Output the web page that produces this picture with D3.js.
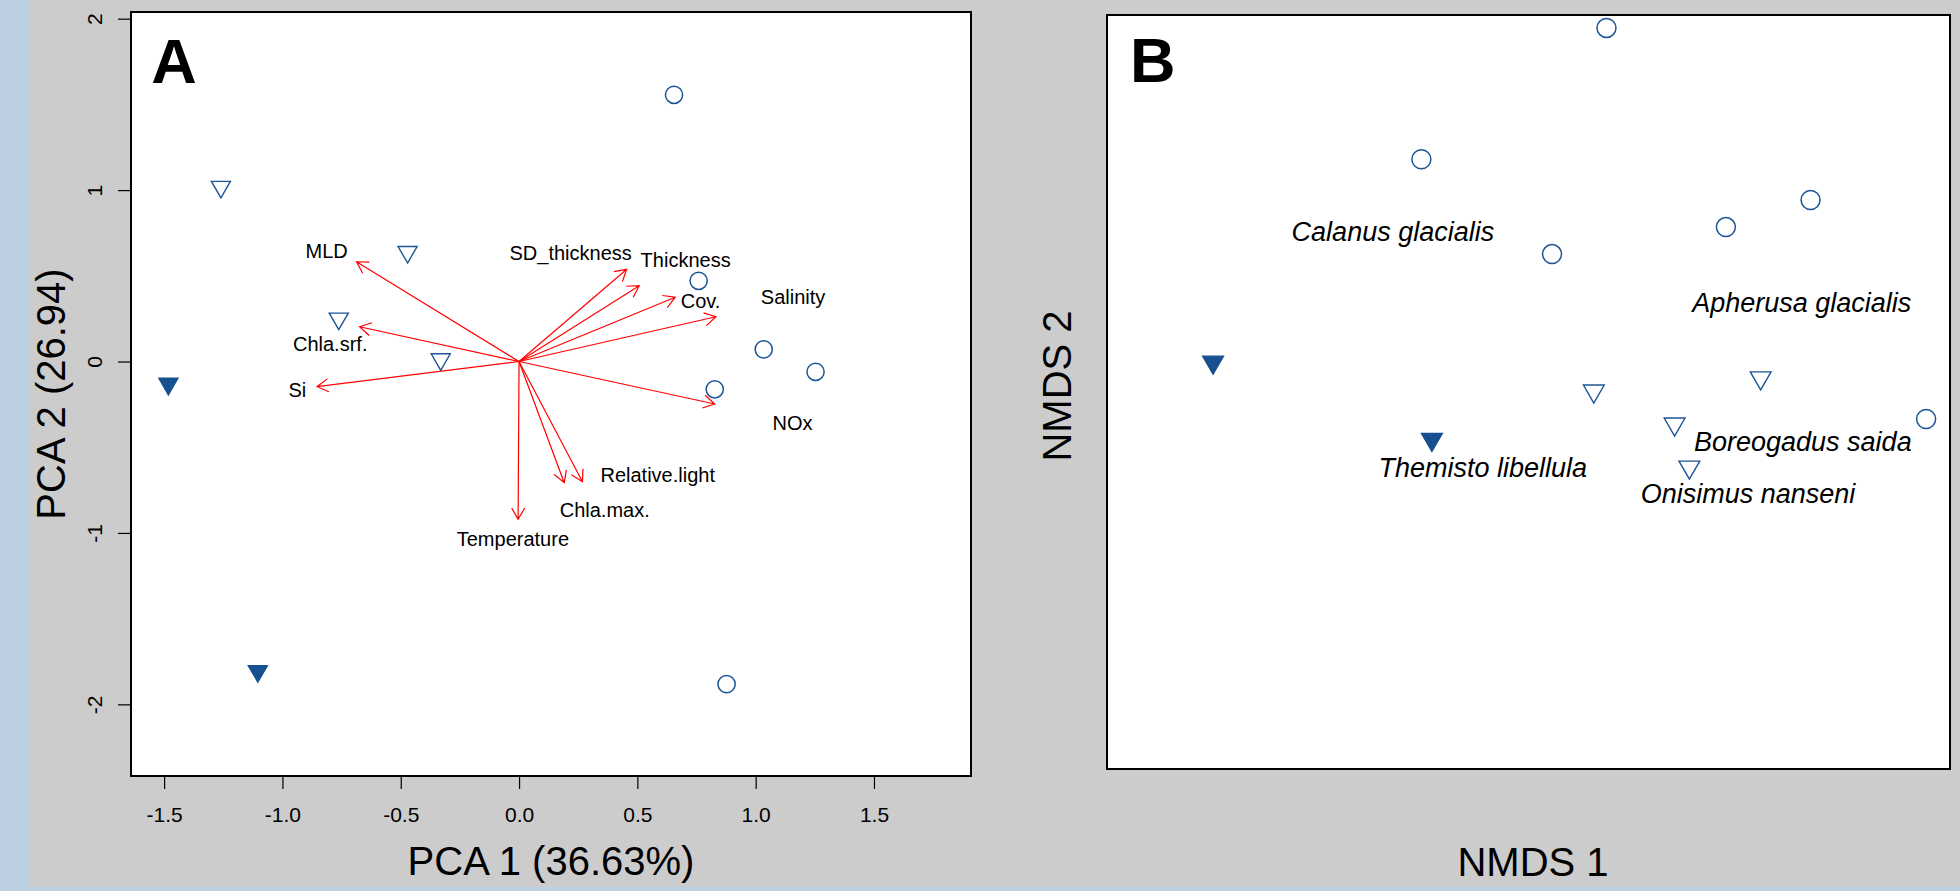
<!DOCTYPE html>
<html>
<head>
<meta charset="utf-8">
<script src="https://cdn.jsdelivr.net/npm/d3@7"></script>
<style>
  body { margin: 0; background: #cccccc; }
  text { font-family: "Liberation Sans", Arial, sans-serif; }
</style>
</head>
<body>
<div id="figure"></div>
<script>
// ---- Panel A: PCA site scores ----
const pcaX     = [0.655, -1.260, -0.471, -0.762, -0.331, -1.482, -1.104, 0.877, 0.759, 1.034, 1.253, 0.827];
const pcaY     = [1.556,  1.019,  0.639,  0.250,  0.013, -0.130, -1.806, -1.882, 0.471, 0.071, -0.060, -0.162];
const pcaGroup = ["circle", "open", "open", "open", "open", "filled", "filled", "circle", "circle", "circle", "circle", "circle"];

// environmental loadings (arrow tips) and label positions
const envNames  = ["MLD", "Chla.srf.", "Si", "SD_thickness", "Thickness", "Cov.", "Salinity", "NOx", "Relative.light", "Chla.max.", "Temperature"];
const envX      = [-0.687, -0.674, -0.854, 0.455, 0.508, 0.660, 0.832, 0.827, 0.268, 0.191, -0.004];
const envY      = [ 0.582,  0.203, -0.147, 0.538, 0.442, 0.375, 0.261, -0.248, -0.701, -0.707, -0.921];
const envLabelX = [-0.813, -0.798, -0.937, 0.218, 0.704, 0.767, 1.158, 1.156, 0.586, 0.362, -0.026];
const envLabelY = [ 0.646,  0.102, -0.166, 0.634, 0.596, 0.355, 0.375, -0.355, -0.658, -0.866, -1.036];

const pcaXTicks = [-1.5, -1.0, -0.5, 0.0, 0.5, 1.0, 1.5];
const pcaYTicks = [-2, -1, 0, 1, 2];

// ---- Panel B: NMDS ----
const nmdsX     = [0.222, -0.305, 0.067, 0.562, 0.803, 1.132, 0.186, 0.661, 0.416, 0.458, -0.898, -0.275];
const nmdsY     = [1.159,  0.741, 0.439, 0.525, 0.611, -0.086, 0.003, 0.045, -0.102, -0.239, 0.095, -0.151];
const nmdsGroup = ["circle", "circle", "circle", "circle", "circle", "circle", "open", "open", "open", "open", "filled", "filled"];

const species  = ["Calanus glacialis", "Apherusa glacialis", "Boreogadus saida", "Themisto libellula", "Onisimus nanseni"];
const speciesX = [-0.386, 0.778, 0.781, -0.130, 0.625];
const speciesY = [ 0.510, 0.284, -0.158, -0.240, -0.322];

const W = 1960, H = 891;
const blue = "#1c5595", blueFill = "#17508f";

const svg = d3.select("#figure").append("svg")
    .attr("width", W)
    .attr("height", H);

// background + light blue strips
svg.append("rect").attr("width", W).attr("height", H).attr("fill", "#cccccc");
svg.append("rect").attr("x", 0).attr("y", 0).attr("width", 29).attr("height", H).attr("fill", "#bdcfe3");
svg.append("rect").attr("x", 0).attr("y", 887).attr("width", W).attr("height", 4).attr("fill", "#bdcfe3");

// draw points (circle / open down-triangle / filled down-triangle)
function drawPoints(g, xs, ys, groups, x, y, rc, rt) {
    const triArea = 3 * Math.sqrt(3) / 4 * rt * rt;
    const tri = d3.symbol().type(d3.symbolTriangle).size(triArea);
    xs.forEach((v, i) => {
        const px = x(v), py = y(ys[i]);
        if (groups[i] === "circle") {
            g.append("circle")
                .attr("cx", px).attr("cy", py).attr("r", rc)
                .attr("fill", "none").attr("stroke", blue).attr("stroke-width", 1.5);
        } else {
            g.append("path")
                .attr("d", tri())
                .attr("transform", `translate(${px},${py}) rotate(180)`)
                .attr("fill", groups[i] === "filled" ? blueFill : "none")
                .attr("stroke", groups[i] === "filled" ? blueFill : blue)
                .attr("stroke-width", 1.4);
        }
    });
}

// ================= Panel A =================
const boxA = { left: 131, right: 971, top: 12, bottom: 776 };
const xA = d3.scaleLinear().domain([-1.640, 1.910]).range([boxA.left, boxA.right]);
const yA = d3.scaleLinear().domain([-2.418, 2.039]).range([boxA.bottom, boxA.top]);

const gA = svg.append("g");
gA.append("rect")
    .attr("x", boxA.left).attr("y", boxA.top)
    .attr("width", boxA.right - boxA.left).attr("height", boxA.bottom - boxA.top)
    .attr("fill", "white");

// x axis
gA.append("g")
    .attr("transform", `translate(0,${boxA.bottom})`)
    .call(d3.axisBottom(xA).tickValues(pcaXTicks).tickFormat(d3.format(".1f")).tickSize(13).tickSizeOuter(0))
    .call(g => g.select(".domain").remove())
    .call(g => g.selectAll("line").attr("stroke", "#000").attr("stroke-width", 1.2))
    .call(g => g.selectAll("text")
        .attr("y", 46).attr("dy", null)
        .attr("fill", "#000")
        .style("font-size", "21px")
        .style("font-family", "Liberation Sans, Arial, sans-serif")
        .text(d => d3.format(".1f")(d).replace("−", "-")));

// y axis (labels parallel to axis, like R)
gA.append("g")
    .attr("transform", `translate(${boxA.left},0)`)
    .call(d3.axisLeft(yA).tickValues(pcaYTicks).tickFormat(d3.format("d")).tickSize(13).tickSizeOuter(0))
    .call(g => g.select(".domain").remove())
    .call(g => g.selectAll("line").attr("stroke", "#000").attr("stroke-width", 1.2))
    .call(g => g.selectAll("text")
        .attr("x", null).attr("dy", null)
        .attr("transform", "translate(-29,0) rotate(-90)")
        .attr("text-anchor", "middle")
        .attr("fill", "#000")
        .style("font-size", "21px")
        .style("font-family", "Liberation Sans, Arial, sans-serif")
        .text(d => String(d).replace("−", "-")));

// arrows
const ox = xA(0), oy = yA(0);
const headLen = 13, headAng = Math.PI / 6;
envNames.forEach((name, i) => {
    const tx = xA(envX[i]), ty = yA(envY[i]);
    const ang = Math.atan2(ty - oy, tx - ox);
    const p = d3.path();
    p.moveTo(ox, oy); p.lineTo(tx, ty);
    p.moveTo(tx - headLen * Math.cos(ang - headAng), ty - headLen * Math.sin(ang - headAng));
    p.lineTo(tx, ty);
    p.lineTo(tx - headLen * Math.cos(ang + headAng), ty - headLen * Math.sin(ang + headAng));
    gA.append("path")
        .attr("d", p.toString())
        .attr("fill", "none")
        .attr("stroke", "#ff0000")
        .attr("stroke-width", 1.2);
    gA.append("text")
        .attr("x", xA(envLabelX[i]))
        .attr("y", yA(envLabelY[i]))
        .attr("dy", "0.36em")
        .attr("text-anchor", "middle")
        .style("font-size", "20px")
        .text(name);
});

drawPoints(gA, pcaX, pcaY, pcaGroup, xA, yA, 8.6, 11);

gA.append("rect")
    .attr("x", boxA.left).attr("y", boxA.top)
    .attr("width", boxA.right - boxA.left).attr("height", boxA.bottom - boxA.top)
    .attr("fill", "none").attr("stroke", "#000").attr("stroke-width", 2);

gA.append("text")
    .attr("x", 174).attr("y", 82.5)
    .attr("text-anchor", "middle")
    .style("font-size", "63px").style("font-weight", "bold")
    .text("A");

gA.append("text")
    .attr("x", (boxA.left + boxA.right) / 2).attr("y", 875)
    .attr("text-anchor", "middle")
    .style("font-size", "40px")
    .text("PCA 1 (36.63%)");

gA.append("text")
    .attr("transform", `translate(65,${(boxA.top + boxA.bottom) / 2}) rotate(-90)`)
    .attr("text-anchor", "middle")
    .style("font-size", "40px")
    .text("PCA 2 (26.94)");

// ================= Panel B =================
const boxB = { left: 1107, right: 1950, top: 15, bottom: 769 };
const xB = d3.scaleLinear().domain([-1.2, 1.2]).range([boxB.left, boxB.right]);
const yB = d3.scaleLinear().domain([-1.2, 1.2]).range([boxB.bottom, boxB.top]);

const gB = svg.append("g");
gB.append("rect")
    .attr("x", boxB.left).attr("y", boxB.top)
    .attr("width", boxB.right - boxB.left).attr("height", boxB.bottom - boxB.top)
    .attr("fill", "white");

drawPoints(gB, nmdsX, nmdsY, nmdsGroup, xB, yB, 9.5, 12);

species.forEach((s, i) => {
    gB.append("text")
        .attr("x", xB(speciesX[i]))
        .attr("y", yB(speciesY[i]))
        .attr("dy", "0.36em")
        .attr("text-anchor", "middle")
        .style("font-size", "27px")
        .style("font-style", "italic")
        .text(s);
});

gB.append("rect")
    .attr("x", boxB.left).attr("y", boxB.top)
    .attr("width", boxB.right - boxB.left).attr("height", boxB.bottom - boxB.top)
    .attr("fill", "none").attr("stroke", "#000").attr("stroke-width", 2);

gB.append("text")
    .attr("x", 1130).attr("y", 81.5)
    .style("font-size", "63px").style("font-weight", "bold")
    .text("B");

gB.append("text")
    .attr("x", 1533).attr("y", 876)
    .attr("text-anchor", "middle")
    .style("font-size", "40px")
    .text("NMDS 1");

gB.append("text")
    .attr("transform", "translate(1071,386) rotate(-90)")
    .attr("text-anchor", "middle")
    .style("font-size", "40px")
    .text("NMDS 2");
</script>
</body>
</html>
